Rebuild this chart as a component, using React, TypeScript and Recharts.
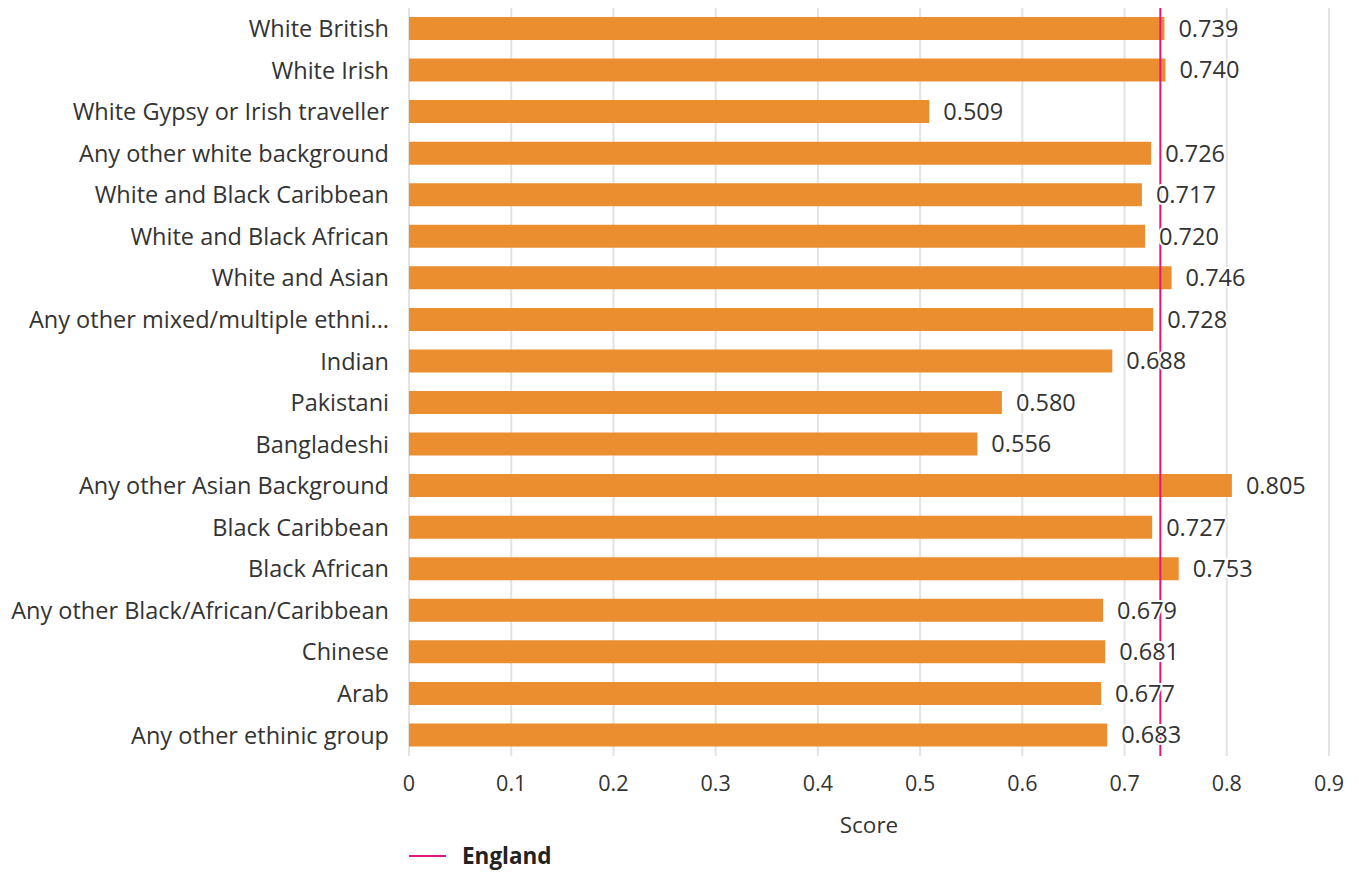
import React from 'react';
import { BarChart, Bar, XAxis, YAxis, CartesianGrid, ReferenceLine, LabelList, Legend } from 'recharts';

const groups = [
  'White British',
  'White Irish',
  'White Gypsy or Irish traveller',
  'Any other white background',
  'White and Black Caribbean',
  'White and Black African',
  'White and Asian',
  'Any other mixed/multiple ethnic background',
  'Indian',
  'Pakistani',
  'Bangladeshi',
  'Any other Asian Background',
  'Black Caribbean',
  'Black African',
  'Any other Black/African/Caribbean',
  'Chinese',
  'Arab',
  'Any other ethinic group',
];

const scores = [0.739, 0.74, 0.509, 0.726, 0.717, 0.72, 0.746, 0.728, 0.688, 0.58, 0.556, 0.805, 0.727, 0.753, 0.679, 0.681, 0.677, 0.683];

const englandScore = 0.735;
const xTicks = [0, 0.1, 0.2, 0.3, 0.4, 0.5, 0.6, 0.7, 0.8, 0.9];

const FONT = '"Open Sans", sans-serif';
const ORANGE = '#EB8E30';
const MAGENTA = '#E5157F';

const data = groups.map((g, i) => ({ group: g, score: scores[i] }));

const shorten = (s: string) => (s.length > 36 ? s.slice(0, 30) + '...' : s);

const LegendBox = () => (
  <div style={{ display: 'flex', alignItems: 'center', paddingLeft: 409, fontFamily: FONT }}>
    <span style={{ display: 'inline-block', width: 37, height: 2, background: MAGENTA, marginRight: 16 }} />
    <span style={{ fontWeight: 700, fontSize: 22.5, color: '#222' }}>England</span>
  </div>
);

export default function App() {
  return (
    <div style={{ position: 'absolute', left: 0, top: 0, background: '#fff' }}>
      <BarChart
        width={1359}
        height={873}
        data={data}
        layout="vertical"
        margin={{ top: 8, right: 30, left: 0, bottom: 0 }}
      >
        <CartesianGrid horizontal={false} stroke="#e3e3e3" strokeWidth={2} />
        <XAxis
          type="number"
          domain={[0, 0.9]}
          ticks={xTicks}
          tickFormatter={(v: number) => String(v)}
          axisLine={false}
          tickLine={false}
          tickMargin={14}
          height={84}
          tick={{ fontSize: 21.5, fill: '#333', fontFamily: FONT }}
          label={{ value: 'Score', position: 'insideBottom', offset: 7, fontSize: 22.5, fill: '#333', fontFamily: FONT }}
        />
        <YAxis
          type="category"
          dataKey="group"
          width={409}
          axisLine={false}
          tickLine={false}
          tickSize={0}
          tickMargin={20}
          interval={0}
          tickFormatter={shorten}
          tick={{ fontSize: 23.5, fill: '#333', fontFamily: FONT }}
        />
        <ReferenceLine x={englandScore} stroke={MAGENTA} strokeWidth={2} />
        <Bar dataKey="score" fill={ORANGE} barSize={23} isAnimationActive={false}>
          <LabelList
            dataKey="score"
            position="right"
            offset={14}
            formatter={(v: number) => v.toFixed(3)}
            style={{ fontSize: 23.5, fill: '#333', fontFamily: FONT, stroke: '#fff', strokeWidth: 4, paintOrder: 'stroke' }}
          />
        </Bar>
        <Legend verticalAlign="bottom" height={33} content={<LegendBox />} />
      </BarChart>
    </div>
  );
}
